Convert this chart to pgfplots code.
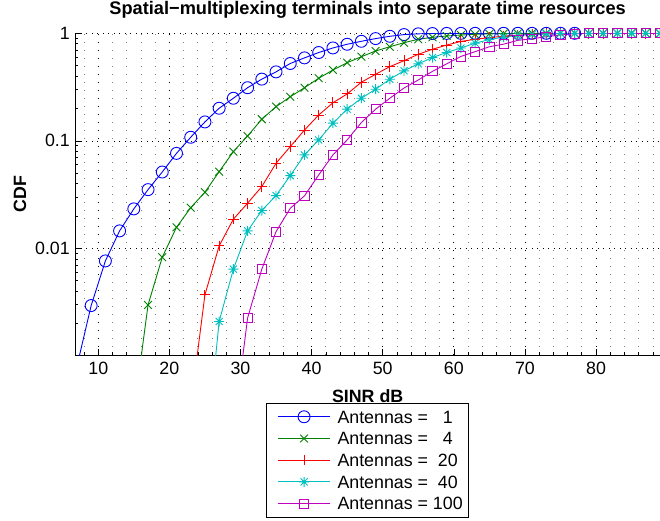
\documentclass[border=0pt]{standalone}
\usepackage{fontspec}
\setmainfont{Liberation Sans}
\usepackage{pgfplots}
\pgfplotsset{compat=1.18}
\definecolor{mblue}{rgb}{0,0,1}
\definecolor{mgreen}{rgb}{0,0.5,0}
\definecolor{mred}{rgb}{1,0,0}
\definecolor{mcyan}{rgb}{0,0.75,0.75}
\definecolor{mmag}{rgb}{0.75,0,0.75}
\pgfdeclareplotmark{mast}{%
 \pgfpathmoveto{\pgfqpoint{-\pgfplotmarksize}{0pt}}\pgfpathlineto{\pgfqpoint{\pgfplotmarksize}{0pt}}%
 \pgfpathmoveto{\pgfqpoint{0pt}{-\pgfplotmarksize}}\pgfpathlineto{\pgfqpoint{0pt}{\pgfplotmarksize}}%
 \pgfpathmoveto{\pgfqpoint{-.7071\pgfplotmarksize}{-.7071\pgfplotmarksize}}\pgfpathlineto{\pgfqpoint{.7071\pgfplotmarksize}{.7071\pgfplotmarksize}}%
 \pgfpathmoveto{\pgfqpoint{-.7071\pgfplotmarksize}{.7071\pgfplotmarksize}}\pgfpathlineto{\pgfqpoint{.7071\pgfplotmarksize}{-.7071\pgfplotmarksize}}%
 \pgfusepathqstroke}
\newcommand\fs{\fontsize{17.8}{21}\selectfont}
\begin{document}
\begin{tikzpicture}
\begin{axis}[
 scale only axis, width=584.7pt, height=321.7pt,
 ymode=log, xmin=6.77, xmax=89, ymin=0.00102, ymax=1,
 xtick={10,20,...,80},
 minor xtick={8,12,14,16,18,22,24,26,28,32,34,36,38,42,44,46,48,52,54,56,58,62,64,66,68,72,74,76,78,82,84,86,88},
 ytick={0.01,0.1,1}, yticklabels={0.01,0.1,1},
 minor ytick={0.002,0.003,0.004,0.005,0.006,0.007,0.008,0.009,0.02,0.03,0.04,0.05,0.06,0.07,0.08,0.09,0.2,0.3,0.4,0.5,0.6,0.7,0.8,0.9},
 /pgf/number format/assume math mode=true,
 axis x line*=bottom, axis y line*=left,
 axis line style={-, black, line width=0.6pt},
 tick align=inside, tick style={black, line width=0.6pt},
 major tick length=6pt, minor tick length=3pt,
 xmajorgrids, ymajorgrids, xminorgrids,
 major x grid style={black, line width=0.7pt, dash pattern=on 0.9pt off 7.1pt},
 minor x grid style={black!50, line width=0.7pt, dash pattern=on 0.9pt off 7.1pt},
 major y grid style={black, line width=0.7pt, dash pattern=on 0.9pt off 4.6pt},
 tick label style={font=\fs},
 xticklabel style={yshift=-4pt},
 yticklabel style={xshift=-2pt},
 title={Spatial−multiplexing terminals into separate time resources},
 title style={at={(axis description cs:0.5,1)}, anchor=base, yshift=13.3pt, font=\bfseries\fontsize{18.2}{22}\selectfont},
 xlabel={SINR dB},
 xlabel style={at={(axis description cs:0.5,-0.1263)}, anchor=center, font=\bfseries\fs},
 ylabel={CDF},
 ylabel style={at={(axis description cs:-0.0946,0.5)}, anchor=center, font=\bfseries\fs},
 clip marker paths=false,
 every axis plot/.append style={line width=0.9pt, mark phase=1},
 legend style={at={(axis description cs:0.5,-0.1483)}, anchor=north, draw=black, line width=0.6pt,
   inner xsep=6pt, inner ysep=7.5pt, font=\fs,
   nodes={inner sep=0pt, text height=12.5pt, text depth=0pt},
   row sep=9.2pt, column sep=7pt},
 legend cell align=left,
 legend image code/.code={
   \path (0pt,0pt) (57pt,0pt);
   \draw[mark repeat=2,mark phase=2] plot coordinates {(5pt,0pt) (31pt,0pt) (57pt,0pt)};
 },
]
\addplot[color=mblue, mark=o, mark size=6pt] coordinates {
(7,0.0008)(9,0.00294)(11,0.00765)(13,0.01455)(15,0.0233)(17,0.0352)(19,0.0513)(21,0.0765)(23,0.108)(25,0.150)(27,0.201)(29,0.249)(31,0.312)(33,0.375)(35,0.438)(37,0.524)(39,0.591)(41,0.663)(43,0.731)(45,0.791)(47,0.843)(49,0.893)(51,0.938)(53,0.973)(55,0.989)(57,0.995)(59,0.998)(61,0.999)(63,1)(65,1)(67,1)(69,1)(71,1)(73,1)(75,1)(77,1)};
\addlegendentry{Antennas =\ \ \ 1}
\addplot[color=mgreen, mark=x, mark size=5.5pt] coordinates {
(15,0.0003)(17,0.00298)(19,0.00828)(21,0.0157)(23,0.0239)(25,0.0333)(27,0.0517)(29,0.0794)(31,0.111)(33,0.159)(35,0.208)(37,0.257)(39,0.312)(41,0.382)(43,0.456)(45,0.533)(47,0.606)(49,0.685)(51,0.750)(53,0.818)(55,0.880)(57,0.918)(59,0.944)(61,0.964)(63,0.978)(65,0.988)(67,0.994)(69,0.997)(71,1)(73,1)(75,1)(77,1)(79,1)(81,1)(83,1)(85,1)(87,1)(89,1)};
\addlegendentry{Antennas =\ \ \ 4}
\addplot[color=mred, mark=+, mark size=5.3pt] coordinates {
(23,0.00034)(25,0.0037)(27,0.01055)(29,0.0187)(31,0.0263)(33,0.0376)(35,0.0619)(37,0.0883)(39,0.126)(41,0.174)(43,0.226)(45,0.273)(47,0.351)(49,0.416)(51,0.490)(53,0.556)(55,0.638)(57,0.710)(59,0.778)(61,0.840)(63,0.880)(65,0.912)(67,0.940)(69,0.962)(71,0.978)(73,0.990)(75,0.996)(77,1)(79,1)(81,1)(83,1)(85,1)(87,1)(89,1)};
\addlegendentry{Antennas =\ \ 20}
\addplot[color=mcyan, mark=mast, mark size=5pt] coordinates {
(25,0.0001)(27,0.00209)(29,0.00641)(31,0.01455)(33,0.0225)(35,0.031)(37,0.0475)(39,0.074)(41,0.102)(43,0.146)(45,0.197)(47,0.249)(49,0.302)(51,0.374)(53,0.448)(55,0.52)(57,0.595)(59,0.663)(61,0.73)(63,0.81)(65,0.875)(67,0.922)(69,0.955)(71,0.975)(73,0.988)(75,0.995)(77,1)(79,1)(81,1)(83,1)(85,1)(87,1)(89,1)};
\addlegendentry{Antennas =\ \ 40}
\addplot[color=mmag, mark=square, mark size=4.6pt] coordinates {
(29,0.0002)(31,0.00225)(33,0.00641)(35,0.0143)(37,0.0236)(39,0.0308)(41,0.0482)(43,0.074)(45,0.102)(47,0.148)(49,0.197)(51,0.249)(53,0.31)(55,0.368)(57,0.443)(59,0.52)(61,0.61)(63,0.675)(65,0.75)(67,0.793)(69,0.86)(71,0.89)(73,0.93)(75,0.964)(77,0.993)(79,1)(81,1)(83,1)(85,1)(87,1)(89,1)};
\addlegendentry{Antennas = 100}
\end{axis}
\pgfresetboundingbox
\path (-75.3pt,-165pt) rectangle (584.7pt,355pt);
\end{tikzpicture}
\end{document}
